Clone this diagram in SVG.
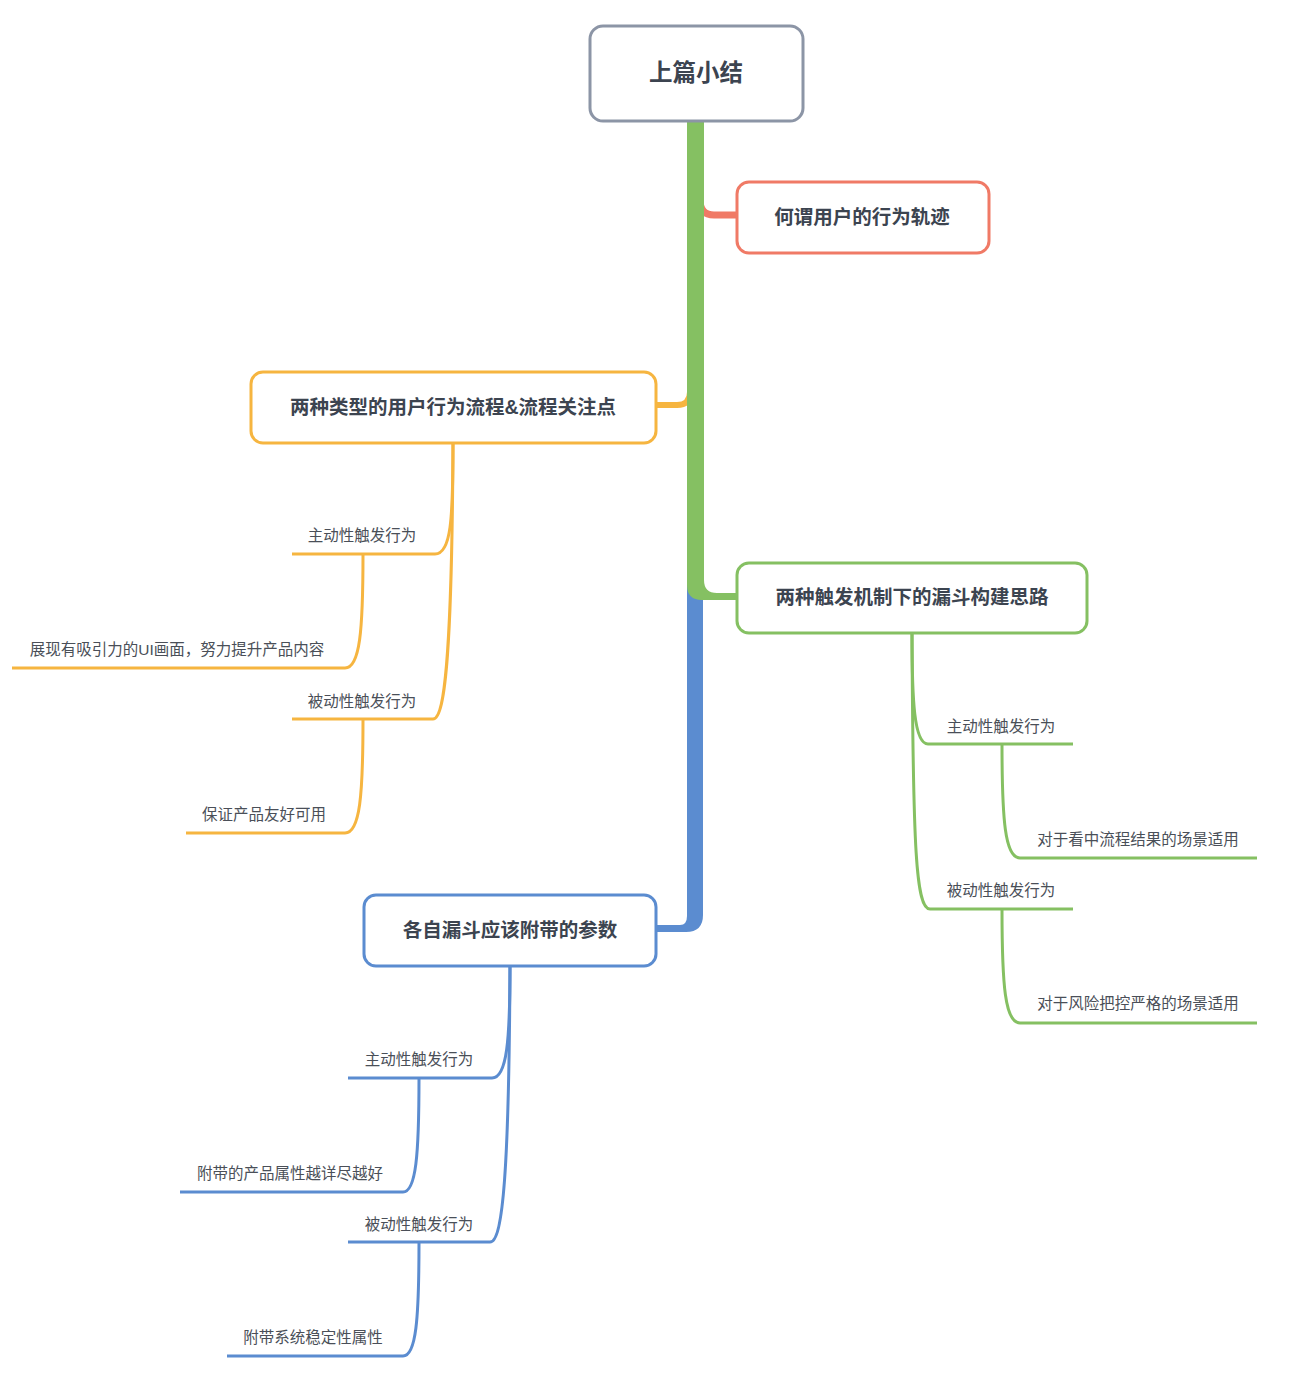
<svg xmlns="http://www.w3.org/2000/svg" width="1296" height="1392" viewBox="0 0 1296 1392">
<style>
.bg{fill:#ffffff}
.node{fill:#ffffff;stroke-width:3}
.t{font-family:"Liberation Sans","Noto Sans CJK SC",sans-serif;fill:#3c4450;text-anchor:middle;dominant-baseline:central}
.title{font-size:19.5px;font-weight:700}
.root{font-size:23.5px;font-weight:700}
.sub{font-size:15.5px;fill:#4a4f58}
.c{fill:none;stroke-width:3;stroke-linecap:butt}
.o{stroke:#f6b540}
.g{stroke:#85c062}
.b{stroke:#5b8cd0}
</style>
<rect class="bg" x="0" y="0" width="1296" height="1392"/>
<g id="connectors">
  <path d="M700,200 Q700,215 714,215 H737" fill="none" stroke="#f07a66" stroke-width="7"/>
  <path d="M657,405 H677 Q690,405 690,392" fill="none" stroke="#f6b540" stroke-width="6"/>
  <path d="M687,122 H703 V915 Q703,932 686,932 H657 V925 H680 Q687,925 687,916 Z" fill="#5b8cd0"/>
  <path d="M687,122 H704 V580 Q704,593 717,593 H737 V600 H702 Q687,600 687,585 Z" fill="#85c062"/>
  <path class="c o" d="M453,443 C453,520 451,554 435,554 H292"/>
  <path class="c o" d="M453,443 C452,640 446,719 433,719 H292"/>
  <path class="c o" d="M363,554 C363,630 360,668 345,668 H12"/>
  <path class="c o" d="M363,719 C363,795 360,833 345,833 H186"/>
  <path class="c g" d="M912,633 C912,700 914,744 928,744 H1073"/>
  <path class="c g" d="M912,633 C913,850 916,909 930,909 H1073"/>
  <path class="c g" d="M1002,744 C1002,820 1005,858 1020,858 H1257"/>
  <path class="c g" d="M1002,909 C1002,985 1005,1023 1020,1023 H1257"/>
  <path class="c b" d="M510,966 C510,1040 507,1078 492,1078 H348"/>
  <path class="c b" d="M510,966 C509,1170 503,1242 490,1242 H348"/>
  <path class="c b" d="M419,1078 C419,1155 416,1192 403,1192 H180"/>
  <path class="c b" d="M419,1242 C419,1320 416,1356 403,1356 H227"/>
</g>
<g id="root">
  <rect class="node" x="590" y="26" width="213" height="95" rx="13" stroke="#8c95a6"/>
  <text class="t root" x="696" y="73">上篇小结</text>
</g>
<g id="n-red">
  <rect class="node" x="737" y="182" width="252" height="71" rx="12" stroke="#f07a66"/>
  <text class="t title" x="862" y="217">何谓用户的行为轨迹</text>
</g>
<g id="n-orange">
  <rect class="node" x="251" y="372" width="405" height="71" rx="12" stroke="#f6b540"/>
  <text class="t title" x="453" y="407">两种类型的用户行为流程&amp;流程关注点</text>
</g>
<g id="n-green">
  <rect class="node" x="737" y="563" width="350" height="70" rx="12" stroke="#85c062"/>
  <text class="t title" x="912" y="597">两种触发机制下的漏斗构建思路</text>
</g>
<g id="n-blue">
  <rect class="node" x="364" y="895" width="292" height="71" rx="12" stroke="#5b8cd0"/>
  <text class="t title" x="510" y="930">各自漏斗应该附带的参数</text>
</g>
<g id="o-active"><text class="t sub" x="362" y="535">主动性触发行为</text></g>
<g id="o-passive"><text class="t sub" x="362" y="701">被动性触发行为</text></g>
<g id="o-active-1"><text class="t sub" x="177" y="649">展现有吸引力的UI画面，努力提升产品内容</text></g>
<g id="o-passive-1"><text class="t sub" x="264" y="814">保证产品友好可用</text></g>
<g id="g-active"><text class="t sub" x="1001" y="726">主动性触发行为</text></g>
<g id="g-passive"><text class="t sub" x="1001" y="890">被动性触发行为</text></g>
<g id="g-active-1"><text class="t sub" x="1138" y="839">对于看中流程结果的场景适用</text></g>
<g id="g-passive-1"><text class="t sub" x="1138" y="1003">对于风险把控严格的场景适用</text></g>
<g id="b-active"><text class="t sub" x="419" y="1059">主动性触发行为</text></g>
<g id="b-passive"><text class="t sub" x="419" y="1224">被动性触发行为</text></g>
<g id="b-active-1"><text class="t sub" x="290" y="1173">附带的产品属性越详尽越好</text></g>
<g id="b-passive-1"><text class="t sub" x="313" y="1337">附带系统稳定性属性</text></g>
</svg>
